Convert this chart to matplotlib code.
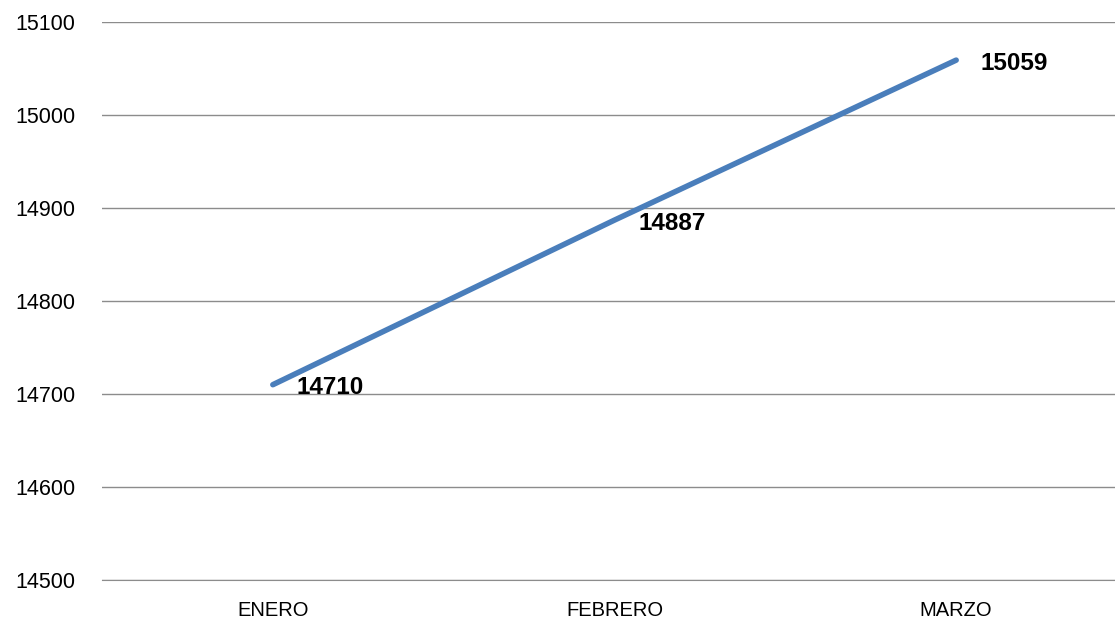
import matplotlib
matplotlib.use("Agg")
import matplotlib.pyplot as plt
from matplotlib.transforms import offset_copy

categories = ["ENERO", "FEBRERO", "MARZO"]
values = [14710, 14887, 15059]
yticks = [14500, 14600, 14700, 14800, 14900, 15000, 15100]

plt.rcParams['font.family'] = ['Liberation Sans', 'DejaVu Sans']

fig = plt.figure(figsize=(11.15, 6.24), dpi=100)
ax = fig.add_axes([102/1115, 1 - 580/624, (1127 - 102)/1115, (580 - 22)/624])

x = list(range(len(categories)))
ax.plot(x, values, color="#4a7ebb", linewidth=4, solid_capstyle="round", zorder=3)

for xi, v in zip(x, values):
    tr = offset_copy(ax.transData, fig=fig, x=24, y=-3, units='dots')
    ax.text(xi, v, str(v), transform=tr, ha='left', va='center',
            fontsize=17.5, fontweight='bold', color='black', zorder=4)

ax.set_xlim(-0.5, 2.5)
ax.set_ylim(14500, 15100)
ax.set_yticks(yticks)
ax.set_xticks(x)
ax.set_xticklabels(categories)
ax.yaxis.grid(True, color="#8c8c8c", linewidth=1)
ax.set_axisbelow(True)
for s in ["left", "right", "top"]:
    ax.spines[s].set_visible(False)
ax.spines["bottom"].set_color("#8c8c8c")
ax.tick_params(axis='both', length=0, colors='black')
ax.tick_params(axis='y', pad=19, labelsize=15.5)
ax.tick_params(axis='x', pad=15, labelsize=14.5)

fig.savefig("out.png", dpi=100)
